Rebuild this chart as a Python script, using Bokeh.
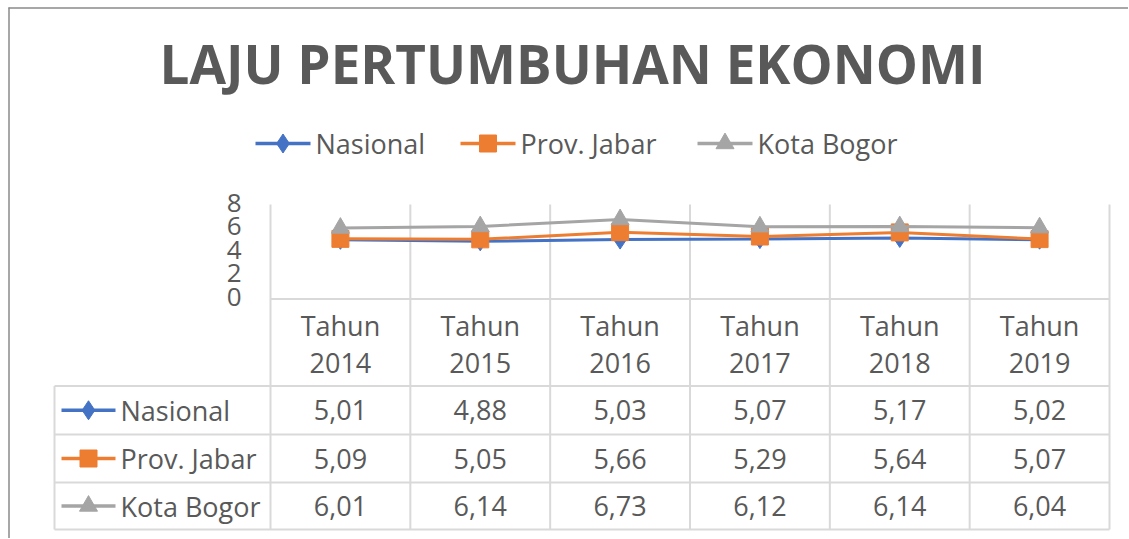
from bokeh.plotting import figure
from bokeh.models import Range1d
from bokeh.core.properties import value
from bokeh.embed import file_html
from bokeh.resources import INLINE

# ---------------- data ----------------
title_text = "LAJU PERTUMBUHAN EKONOMI"
years = ["2014", "2015", "2016", "2017", "2018", "2019"]
category_labels = ["Tahun\n" + y for y in years]
series_names = ["Nasional", "Prov. Jabar", "Kota Bogor"]
nasional = [5.01, 4.88, 5.03, 5.07, 5.17, 5.02]
prov_jabar = [5.09, 5.05, 5.66, 5.29, 5.64, 5.07]
kota_bogor = [6.01, 6.14, 6.73, 6.12, 6.14, 6.04]
y_ticks = [0, 2, 4, 6, 8]

series_values = [nasional, prov_jabar, kota_bogor]

# ---------------- style / layout ----------------
colors = ["#4472C4", "#ED7D31", "#A5A5A5"]
markers = ["diamond", "square", "triangle"]
marker_sizes = [19, 17, 18]
TXT = "#595959"
GRID = "#d9d9d9"
FONT = value("Open Sans")

W, H = 1128, 538
OX, OY = 0, 0                 # page offset of the figure
PL, PR = 270, 1109            # plot area left / right (page px)
PT, PB = 204, 298.5           # plot area top / bottom (page px)
TL = 54                       # table left
ROWS = [385.5, 434, 482, 529] # table horizontal lines
ncat = len(years)
cw = (PR - PL) / ncat
ymax = max(y_ticks)
unit = (PB - PT) / ymax

x_start = (OX - PL) / cw - 0.5
x_end = (OX + W - PL) / cw - 0.5
y_end = ymax + (PT - OY) / unit
y_start = -(OY + H - PB) / unit

p = figure(width=W, height=H, title=None,
           x_range=Range1d(x_start, x_end), y_range=Range1d(y_start, y_end),
           x_axis_type=None, y_axis_type=None, toolbar_location=None,
           output_backend="svg", min_border=0, outline_line_color=None,
           background_fill_color="white", border_fill_color="white")
p.extra_x_ranges = {"px": Range1d(OX, OX + W)}
p.extra_y_ranges = {"px": Range1d(OY + H, OY)}

# chart border (top and left visible)
p.segment(x0=[8, 8.5], y0=[7.5, 7], x1=[OX + W, 8.5], y1=[7.5, OY + H],
          x_range_name="px", y_range_name="px", line_color="#8a8a8a", line_width=1.5)

# vertical grid lines (category boundaries), from plot top to table bottom
xb = [i - 0.5 for i in range(ncat + 1)]
p.segment(x0=xb, y0=[PT] * len(xb), x1=xb, y1=[ROWS[-1]] * len(xb),
          y_range_name="px", line_color=GRID, line_width=2)
# horizontal lines: zero line and table rows
p.segment(x0=[PL] + [TL] * len(ROWS), y0=[PB] + ROWS, x1=[PR] * (len(ROWS) + 1), y1=[PB] + ROWS,
          x_range_name="px", y_range_name="px", line_color=GRID, line_width=2)
p.segment(x0=[TL], y0=[ROWS[0]], x1=[TL], y1=[ROWS[-1]],
          x_range_name="px", y_range_name="px", line_color=GRID, line_width=2)

# y tick labels
p.text(x=[241] * len(y_ticks), y=y_ticks, text=[str(t) for t in y_ticks], x_range_name="px",
       text_font=FONT, text_font_size="26px", text_color=TXT,
       text_align="right", text_baseline="middle", y_offset=-2)

# category labels
p.text(x=list(range(ncat)), y=[343] * ncat, text=category_labels, y_range_name="px",
       text_font=FONT, text_font_size="27px", text_color=TXT,
       text_align="center", text_baseline="middle", text_line_height=1.0)

# series
xs = list(range(ncat))
for vals, col, mk, ms in zip(series_values, colors, markers, marker_sizes):
    p.line(x=xs, y=vals, line_color=col, line_width=3)
    p.scatter(x=xs, y=vals, marker=mk, size=ms, fill_color=col, line_color=col)

# title
p.text(x=[572], y=[63], text=[title_text], x_range_name="px", y_range_name="px",
       text_font=FONT, text_font_size="53px", text_font_style="bold", text_color=TXT,
       text_align="center", text_baseline="middle")

# top legend
leg_x = [255, 460, 697]
leg_y = 143
for lx, name, col, mk, ms in zip(leg_x, series_names, colors, markers, marker_sizes):
    p.segment(x0=[lx], y0=[leg_y], x1=[lx + 55], y1=[leg_y], x_range_name="px", y_range_name="px",
              line_color=col, line_width=3.5)
    p.scatter(x=[lx + 27.5], y=[leg_y], marker=mk, size=ms, fill_color=col, line_color=col,
              x_range_name="px", y_range_name="px")
    p.text(x=[lx + 60], y=[leg_y], text=[name], x_range_name="px", y_range_name="px",
           text_font=FONT, text_font_size="27px", text_color=TXT,
           text_align="left", text_baseline="middle")

# data table
for r, (name, vals, col, mk, ms) in enumerate(zip(series_names, series_values, colors, markers, marker_sizes)):
    yc = (ROWS[r] + ROWS[r + 1]) / 2
    p.segment(x0=[61], y0=[yc], x1=[115], y1=[yc], x_range_name="px", y_range_name="px",
              line_color=col, line_width=3.5)
    p.scatter(x=[88], y=[yc], marker=mk, size=ms, fill_color=col, line_color=col,
              x_range_name="px", y_range_name="px")
    p.text(x=[120], y=[yc], text=[name], x_range_name="px", y_range_name="px",
           text_font=FONT, text_font_size="27px", text_color=TXT,
           text_align="left", text_baseline="middle")
    p.text(x=xs, y=[yc] * ncat, text=[f"{v:.2f}".replace(".", ",") for v in vals],
           y_range_name="px", text_font=FONT, text_font_size="27px", text_color=TXT,
           text_align="center", text_baseline="middle")

open("out.html", "w").write(file_html(p, INLINE))
